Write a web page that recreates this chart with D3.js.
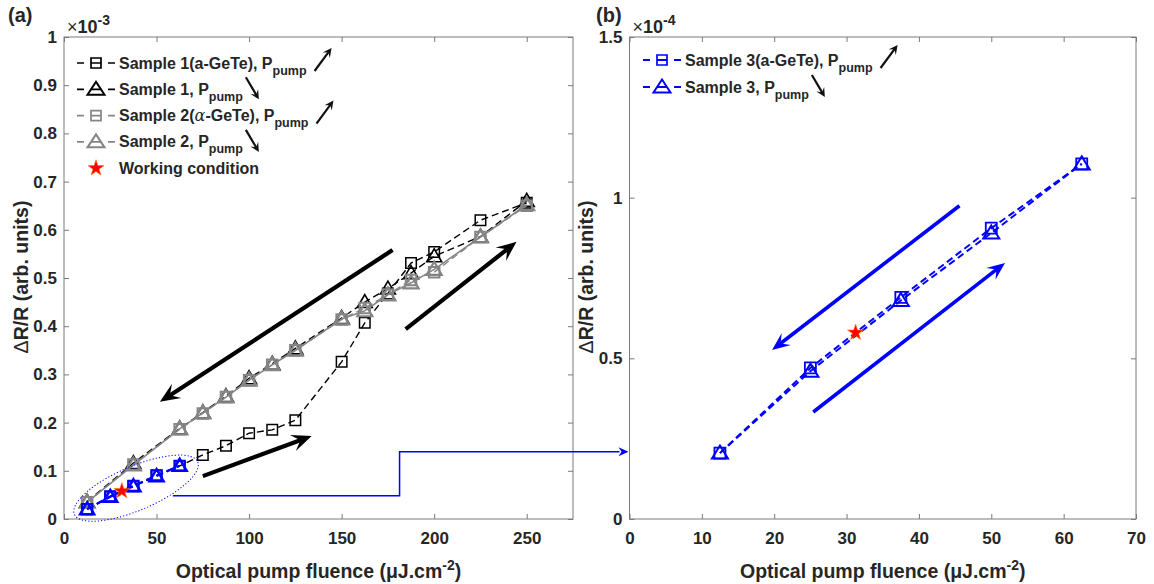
<!DOCTYPE html>
<html><head><meta charset="utf-8">
<script src="https://cdn.jsdelivr.net/npm/d3@7"></script>
<style>
body{margin:0;background:#fff}
svg{display:block}
text{font-family:"Liberation Sans",Arial,sans-serif;font-weight:bold;fill:#262626}
</style>
</head><body>
<svg id="c" width="1154" height="584"></svg>
<script>
// ---------------- data ----------------
// Panel (a): units of 1e-3
const fluenceS1Up = [12.5,25,37.5,50,62.5,75,87.5,100,112.5,125,150,162.5,175,187.5,200,225,250];
const s1Up        = [0.020,0.046,0.068,0.090,0.110,0.133,0.152,0.178,0.185,0.205,0.326,0.407,0.468,0.531,0.554,0.620,0.656];
const fluenceDown = [12.5,37.5,62.5,75,87.5,100,112.5,125,150,162.5,175,187.5,200,225,250];
const s1Down      = [0.036,0.116,0.188,0.221,0.255,0.292,0.322,0.354,0.417,0.450,0.478,0.510,0.545,0.586,0.660];
const s2Up        = [0.035,0.113,0.186,0.219,0.253,0.288,0.320,0.350,0.414,0.438,0.466,0.496,0.512,0.585,0.650];
const s2Down      = [0.035,0.112,0.187,0.220,0.253,0.288,0.320,0.350,0.415,0.432,0.465,0.490,0.518,0.585,0.652];
// Sample 3: units of 1e-4
const fluenceS3 = [12.5,25,37.5,50,62.5];
const s3Up      = [0.205,0.470,0.690,0.905,1.105];
const s3Down    = [0.205,0.460,0.680,0.890,1.105];
const working   = {x:31.25, y:0.58}; // 1e-4
const xTicksA = [0,50,100,150,200,250];
const yTicksA = [0,0.1,0.2,0.3,0.4,0.5,0.6,0.7,0.8,0.9,1];
const xTicksB = [0,10,20,30,40,50,60,70];
const yTicksB = [0,0.5,1,1.5];
const legendA = [
  {main:"Sample 1(a-GeTe), P", sub:"pump", dir:"up", color:"#000", marker:"square"},
  {main:"Sample 1, P", sub:"pump", dir:"down", color:"#000", marker:"tri"},
  {main:"Sample 2(", alpha:true, rest:"-GeTe), P", sub:"pump", dir:"up", color:"#858585", marker:"square"},
  {main:"Sample 2, P", sub:"pump", dir:"down", color:"#858585", marker:"tri"},
  {main:"Working condition", marker:"star"}
];
const legendB = [
  {main:"Sample 3(a-GeTe), P", sub:"pump", dir:"up", color:"#0000ff", marker:"square"},
  {main:"Sample 3, P", sub:"pump", dir:"down", color:"#0000ff", marker:"tri"}
];
// annotation arrows in data coordinates
const arrowsA = [
  {from:[177.5,0.558], to:[51.8,0.243]},
  {from:[75,0.089], to:[133.8,0.172]},
  {from:[184.6,0.394], to:[244.5,0.575]}
];
const arrowsB = [
  {from:[45.6,0.975], to:[19.7,0.526]},
  {from:[25.4,0.333], to:[51.9,0.797]}
];

// ---------------- layout ----------------
const svg = d3.select("#c");
const A = {l:64, r:573, t:37, b:519};
const B = {l:629.5, r:1136, t:37, b:519};
const xa = d3.scaleLinear().domain([0,275]).range([A.l,A.r]);
const ya = d3.scaleLinear().domain([0,1]).range([A.b,A.t]);
const xb = d3.scaleLinear().domain([0,70]).range([B.l,B.r]);
const yb = d3.scaleLinear().domain([0,1.5]).range([B.b,B.t]);
const AX = "#7a7a7a";

function frame(x, y, xt, yt, yfmt) {
  const g = svg.append("g");
  const [x0,x1] = x.range(), [y0,y1] = y.range();
  const style = s => s.call(q=>q.select(".domain").remove())
    .call(q=>q.selectAll("line").attr("stroke",AX))
    .call(q=>q.selectAll("text").attr("font-family",null).style("font-size","17px").attr("fill","#262626"));
  g.append("g").attr("transform",`translate(0,${y0})`)
    .call(d3.axisBottom(x).tickValues(xt).tickSize(-5).tickPadding(13).tickFormat(d3.format("d"))).call(style);
  g.append("g").attr("transform",`translate(0,${y1})`)
    .call(d3.axisTop(x).tickValues(xt).tickSize(-5).tickFormat("")).call(style);
  g.append("g").attr("transform",`translate(${x0},0)`)
    .call(d3.axisLeft(y).tickValues(yt).tickSize(-5).tickPadding(7).tickFormat(yfmt)).call(style);
  g.append("g").attr("transform",`translate(${x1},0)`)
    .call(d3.axisRight(y).tickValues(yt).tickSize(-5).tickFormat("")).call(style);
  g.append("rect").attr("x",x0).attr("y",y1).attr("width",x1-x0).attr("height",y0-y1)
    .attr("fill","none").attr("stroke",AX).attr("stroke-width",1);
  return g;
}
frame(xa, ya, xTicksA, yTicksA, d => d===0||d===1 ? d3.format("d")(d) : d3.format(".1f")(d));
frame(xb, yb, xTicksB, yTicksB, d => d===0||d===1 ? d3.format("d")(d) : d3.format(".1f")(d));

// ---------------- markers ----------------
const sq = s => `M${-s/2},${-s/2}h${s}v${s}h${-s}Z`;
const tri = (w,h) => `M0,${-h*0.58}L${w/2},${h*0.42}L${-w/2},${h*0.42}Z`;
const star = d3.symbol().type(d3.symbolStar).size(80)();

function series(g, x, y, xs, ys, opt) {
  const pts = xs.map((v,i)=>[x(v), y(ys[i])]);
  g.append("path").attr("d", d3.line()(pts)).attr("fill","none")
    .attr("stroke",opt.color).attr("stroke-width",opt.lw)
    .attr("stroke-dasharray", opt.dash || null);
  g.selectAll(null).data(pts).enter().append("path")
    .attr("transform", p=>`translate(${p[0]},${p[1]})`)
    .attr("d", opt.marker)
    .attr("fill","none").attr("stroke",opt.color).attr("stroke-width",opt.mlw);
}

function arrow(g, x1,y1,x2,y2, color, lw, L, W) {
  const ang = Math.atan2(y2-y1, x2-x1)*180/Math.PI;
  const len = Math.hypot(x2-x1, y2-y1);
  const a = g.append("g").attr("transform",`translate(${x2},${y2}) rotate(${ang})`);
  a.append("line").attr("x1",-len).attr("y1",0).attr("x2",-L*0.5).attr("y2",0)
    .attr("stroke",color).attr("stroke-width",lw);
  a.append("path").attr("d",`M0,0L${-L},${-W/2}L${-L*0.6},0L${-L},${W/2}Z`).attr("fill",color);
}

// ---------------- panel (a) ----------------
const ga = svg.append("g");
series(ga, xa, ya, fluenceS1Up, s1Up, {color:"#000", lw:1.4, dash:"7,4", marker:sq(10.5), mlw:1.5});
series(ga, xa, ya, fluenceDown, s1Down, {color:"#000", lw:1.4, dash:"7,4", marker:tri(15,13), mlw:1.6});
series(ga, xa, ya, fluenceDown, s2Up, {color:"#858585", lw:1.4, dash:"7,4", marker:sq(10.5), mlw:2});
series(ga, xa, ya, fluenceDown, s2Down, {color:"#858585", lw:1.6, marker:tri(15,13), mlw:2.2});
series(ga, xa, ya, fluenceS3, s3Up.map(v=>v/10), {color:"#0000ff", lw:2, dash:"7,4", marker:sq(10), mlw:2.2});
series(ga, xa, ya, fluenceS3, s3Down.map(v=>v/10), {color:"#0000ff", lw:2, dash:"7,4", marker:tri(14,12), mlw:2.5});
ga.append("path").attr("d",star).attr("transform",`translate(${xa(working.x)},${ya(working.y/10)})`)
  .attr("fill","#ff0000").attr("stroke","#ff7a00").attr("stroke-width",0.6);
// dotted ellipse around sample-3 points
{
  const cx = xa(38.9), cy = ya(0.064);
  ga.append("ellipse").attr("cx",0).attr("cy",0).attr("rx",67).attr("ry",22)
    .attr("transform",`translate(${cx},${cy}) rotate(-23)`)
    .attr("fill","none").attr("stroke","#0000ff").attr("stroke-width",1).attr("stroke-dasharray","1.2,2");
}
arrowsA.forEach(a=>arrow(ga, xa(a.from[0]),ya(a.from[1]), xa(a.to[0]),ya(a.to[1]), "#000", 4.2, 20, 17));

// connector from panel (a) to panel (b)
{
  const xs = xa(58.8), ys = ya(0.048), xm = xa(181.3), yt = yb(0.209);
  svg.append("path").attr("d",`M${xs},${ys}H${xm}V${yt}H${B.l-10}`)
    .attr("fill","none").attr("stroke","#0000ff").attr("stroke-width",1.5);
  svg.append("path").attr("d",`M${B.l-1},${yt}L${B.l-11},${yt-4.5}L${B.l-8},${yt}L${B.l-11},${yt+4.5}Z`).attr("fill","#0000ff");
}

// ---------------- panel (b) ----------------
const gb = svg.append("g");
series(gb, xb, yb, fluenceS3, s3Up, {color:"#0000ff", lw:2, dash:"7,4", marker:sq(11), mlw:1.8});
series(gb, xb, yb, fluenceS3, s3Down, {color:"#0000ff", lw:2, dash:"7,4", marker:tri(16,13), mlw:2});
gb.append("path").attr("d",star).attr("transform",`translate(${xb(working.x)},${yb(working.y)})`)
  .attr("fill","#ff0000").attr("stroke","#ff7a00").attr("stroke-width",0.6);
arrowsB.forEach(a=>arrow(gb, xb(a.from[0]),yb(a.from[1]), xb(a.to[0]),yb(a.to[1]), "#0000ff", 3.6, 18, 15));

// ---------------- legends ----------------
function legend(entries, mx, tx, y0, dy) {
  const g = svg.append("g");
  entries.forEach((e,i)=>{
    const cy = y0 + i*dy;
    if (e.marker === "star") {
      g.append("path").attr("d",star).attr("transform",`translate(${mx},${cy})`)
        .attr("fill","#ff0000").attr("stroke","#ff7a00").attr("stroke-width",0.6);
    } else {
      g.append("line").attr("x1",mx-19).attr("x2",mx+19).attr("y1",cy).attr("y2",cy)
        .attr("stroke",e.color).attr("stroke-width",e.color==="#0000ff"?2:1.7)
        .attr("stroke-dasharray","7,7,10,7,7");
      g.append("path").attr("transform",`translate(${mx},${cy})`)
        .attr("d", e.marker==="square"? sq(10) : tri(17,13))
        .attr("fill","none").attr("stroke",e.color).attr("stroke-width",e.marker==="square"?1.7:2);
    }
    const t = g.append("text").attr("x",tx).attr("y",cy+5.5).style("font-size","16px").attr("fill","#111");
    t.append("tspan").text(e.main);
    if (e.alpha) {
      t.append("tspan").text("α").style("font-style","italic").style("font-weight","normal")
        .style("font-family","'DejaVu Serif',serif");
      t.append("tspan").text(e.rest);
    }
    if (e.sub) {
      t.append("tspan").text(e.sub).attr("dy",6).style("font-size","12.5px");
    }
    const end = tx + t.node().getComputedTextLength();
    if (e.dir === "up") {
      arrow(g, end+8, cy+8, end+25, cy-15, "#111", 2.2, 9, 9);
    } else if (e.dir === "down") {
      arrow(g, end+3, cy-12, end+16, cy+10, "#111", 2.2, 9, 9);
    }
  });
}
legend(legendA, 96, 119, 63, 26.3);
legend(legendB, 662, 685, 60, 27);

// ---------------- texts ----------------
function sciLabel(x, exp) {
  const t = svg.append("text").attr("x",x).attr("y",33).style("font-size","18px");
  t.append("tspan").text("×").style("font-weight","normal");
  t.append("tspan").text("10");
  t.append("tspan").text(exp).attr("dy",-8).style("font-size","14px");
}
sciLabel(A.l+3, "-3");
sciLabel(B.l+3, "-4");
svg.append("text").attr("x",8).attr("y",22).style("font-size","20px").attr("fill","#111").text("(a)");
svg.append("text").attr("x",596).attr("y",22).style("font-size","20px").attr("fill","#111").text("(b)");

function xTitle(cx) {
  const t = svg.append("text").attr("x",cx).attr("y",578).attr("text-anchor","middle").style("font-size","19.5px");
  t.append("tspan").text("Optical pump fluence (μJ.cm");
  t.append("tspan").text("-2").attr("dy",-8).style("font-size","14px");
  t.append("tspan").text(")").attr("dy",8);
}
xTitle((A.l+A.r)/2);
xTitle((B.l+B.r)/2);
function yTitle(x, cy) {
  const t = svg.append("text").attr("transform",`translate(${x},${cy}) rotate(-90)`)
    .attr("text-anchor","middle").style("font-size","19.5px");
  t.append("tspan").text("Δ").style("font-weight","normal");
  t.append("tspan").text("R/R (arb. units)");
}
yTitle(28, 277);
yTitle(593, 277);
</script>
</body></html>
